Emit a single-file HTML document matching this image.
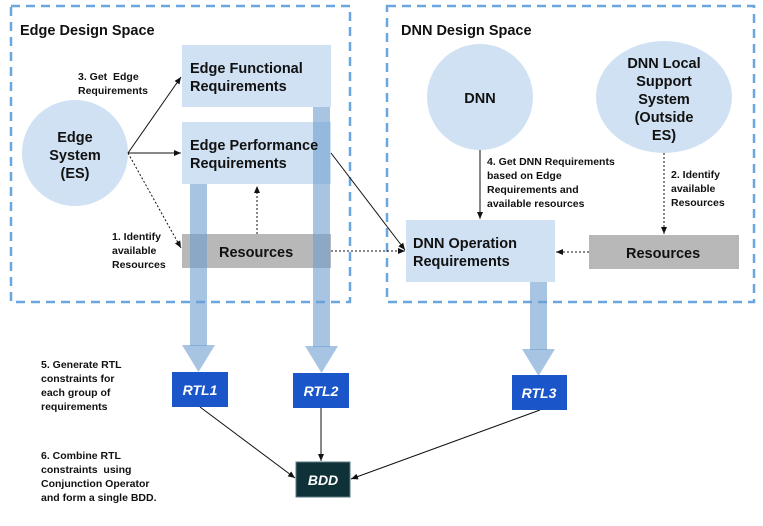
<!DOCTYPE html>
<html><head><meta charset="utf-8"><style>
html,body{margin:0;padding:0;background:#fff}
svg{display:block}
text{font-family:"Liberation Sans",Arial,sans-serif;font-weight:bold;fill:#111}
.s{font-size:10.5px}
.m{font-size:14.5px}
.r{font-size:14px;font-style:italic;fill:#fff}
</style></head><body>
<svg width="763" height="526" viewBox="0 0 763 526" xmlns="http://www.w3.org/2000/svg">
<defs>
<marker id="a" markerWidth="8" markerHeight="8" refX="7" refY="4" orient="auto" markerUnits="userSpaceOnUse"><path d="M0,1 L7,4 L0,7 z" fill="#111"/></marker>
</defs>
<rect x="11" y="6" width="339" height="296" fill="none" stroke="#6aa6e0" stroke-width="2.5" stroke-dasharray="9,6"/>
<rect x="387" y="6" width="367" height="296" fill="none" stroke="#6aa6e0" stroke-width="2.5" stroke-dasharray="9,6"/>
<text x="20" y="35" class="m">Edge Design Space</text>
<text x="401" y="35" class="m">DNN Design Space</text>

<rect x="182" y="45" width="149" height="62" fill="#cfe1f3"/>
<rect x="182" y="122" width="149" height="62" fill="#cfe1f3"/>
<rect x="182" y="234" width="149" height="34" fill="#b8b8b8"/>
<circle cx="75" cy="153" r="53" fill="#cfe1f3"/>

<g fill="#6d9fd0" fill-opacity="0.6">
<rect x="190" y="184" width="17" height="162"/>
<path d="M182,345 L215,345 L198.5,372 z"/>
<rect x="313" y="107" width="17" height="240"/>
<path d="M305,346 L338,346 L321.5,373 z"/>
<rect x="530" y="282" width="17" height="68"/>
<path d="M522,349 L555,349 L538.5,376 z"/>
</g>

<text x="190" y="73" class="m">Edge Functional</text>
<text x="190" y="91" class="m">Requirements</text>
<text x="190" y="150" class="m">Edge Performance</text>
<text x="190" y="168" class="m">Requirements</text>
<text x="219" y="257" class="m">Resources</text>
<text x="75" y="142" class="m" text-anchor="middle">Edge</text>
<text x="75" y="160" class="m" text-anchor="middle">System</text>
<text x="75" y="178" class="m" text-anchor="middle">(ES)</text>

<circle cx="480" cy="97" r="53" fill="#cfe1f3"/>
<text x="480" y="103" class="m" text-anchor="middle">DNN</text>
<ellipse cx="664" cy="97" rx="68" ry="56" fill="#cfe1f3"/>
<text x="664" y="68" class="m" text-anchor="middle">DNN Local</text>
<text x="664" y="86" class="m" text-anchor="middle">Support</text>
<text x="664" y="104" class="m" text-anchor="middle">System</text>
<text x="664" y="122" class="m" text-anchor="middle">(Outside</text>
<text x="664" y="140" class="m" text-anchor="middle">ES)</text>

<rect x="406" y="220" width="149" height="62" fill="#cfe1f3"/>
<text x="413" y="248" class="m">DNN Operation</text>
<text x="413" y="266" class="m">Requirements</text>
<rect x="589" y="235" width="150" height="34" fill="#b8b8b8"/>
<text x="626" y="258" class="m">Resources</text>

<g stroke="#111" stroke-width="1" fill="none">
<line x1="128" y1="153" x2="181" y2="77" marker-end="url(#a)"/>
<line x1="128" y1="153" x2="181" y2="153" marker-end="url(#a)"/>
<line x1="128" y1="153" x2="181" y2="248" stroke-dasharray="2,2" marker-end="url(#a)"/>
<line x1="257" y1="234" x2="257" y2="186" stroke-dasharray="2,2" marker-end="url(#a)"/>
<line x1="331" y1="153" x2="405" y2="250" marker-end="url(#a)"/>
<line x1="331" y1="251" x2="405" y2="251" stroke-dasharray="2,2" marker-end="url(#a)"/>
<line x1="480" y1="150" x2="480" y2="219" marker-end="url(#a)"/>
<line x1="664" y1="153" x2="664" y2="234" stroke-dasharray="2,2" marker-end="url(#a)"/>
<line x1="589" y1="252" x2="556" y2="252" stroke-dasharray="2,2" marker-end="url(#a)"/>
<line x1="200" y1="407" x2="295" y2="478" marker-end="url(#a)"/>
<line x1="321" y1="408" x2="321" y2="461" marker-end="url(#a)"/>
<line x1="540" y1="410" x2="351" y2="479" marker-end="url(#a)"/>
</g>

<text x="78" y="80" class="s" xml:space="preserve">3. Get  Edge</text>
<text x="78" y="94" class="s">Requirements</text>
<text x="112" y="240" class="s">1. Identify</text>
<text x="112" y="254" class="s">available</text>
<text x="112" y="268" class="s">Resources</text>
<text x="487" y="165" class="s">4. Get DNN Requirements</text>
<text x="487" y="179" class="s">based on Edge</text>
<text x="487" y="193" class="s">Requirements and</text>
<text x="487" y="207" class="s">available resources</text>
<text x="671" y="178" class="s">2. Identify</text>
<text x="671" y="192" class="s">available</text>
<text x="671" y="206" class="s">Resources</text>
<text x="41" y="368" class="s">5. Generate RTL</text>
<text x="41" y="382" class="s">constraints for</text>
<text x="41" y="396" class="s">each group of</text>
<text x="41" y="410" class="s">requirements</text>
<text x="41" y="459" class="s">6. Combine RTL</text>
<text x="41" y="473" class="s" xml:space="preserve">constraints  using</text>
<text x="41" y="487" class="s">Conjunction Operator</text>
<text x="41" y="501" class="s">and form a single BDD.</text>

<rect x="172" y="372" width="56" height="35" fill="#1a56c9"/>
<text x="200" y="395" class="r" text-anchor="middle">RTL1</text>
<rect x="293" y="373" width="56" height="35" fill="#1a56c9"/>
<text x="321" y="396" class="r" text-anchor="middle">RTL2</text>
<rect x="512" y="375" width="55" height="35" fill="#1a56c9"/>
<text x="539" y="398" class="r" text-anchor="middle">RTL3</text>
<rect x="296" y="462" width="54" height="35" fill="#0e3238" stroke="#5a7a80" stroke-width="1"/>
<text x="323" y="485" class="r" text-anchor="middle">BDD</text>
</svg>
</body></html>
